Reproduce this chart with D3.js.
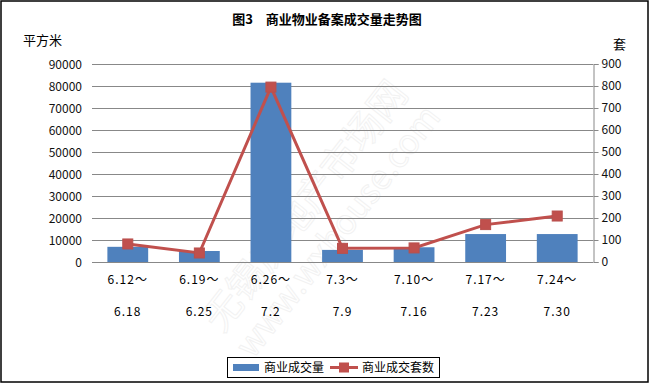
<!DOCTYPE html>
<html><head><meta charset="utf-8">
<script src="https://cdn.jsdelivr.net/npm/d3@7"></script>
<style>body{margin:0;background:#fff}svg{display:block}text{font-family:"SimSun","Noto Sans CJK SC",sans-serif}</style>
</head><body>
<svg id="c" width="650" height="384"></svg>
<script>
const categoriesTop = ["6.12～","6.19～","6.26～","7.3～","7.10～","7.17～","7.24～"];
const categoriesBottom = ["6.18","6.25","7.2","7.9","7.16","7.23","7.30"];
const area = [6900, 5000, 81500, 5500, 6700, 12700, 12700];
const units = [82, 41, 795, 62, 64, 170, 209];
const leftTicks = [0,10000,20000,30000,40000,50000,60000,70000,80000,90000];
const rightTicks = [0,100,200,300,400,500,600,700,800,900];
const title = "图3　商业物业备案成交量走势图";
const leftUnit = "平方米", rightUnit = "套";
const legendNames = ["商业成交量","商业成交套数"];

const svg = d3.select("#c");
const L = 92, R = 593, T = 64, B = 262;
const x = d3.scaleBand().domain(categoriesTop.map((d,i)=>i)).range([L,R]).paddingInner(0.43).paddingOuter(0.215);
const yL = d3.scaleLinear().domain([0,90000]).range([B,T]);
const yR = d3.scaleLinear().domain([0,900]).range([B,T]);

svg.append("rect").attr("x",1).attr("y",1).attr("width",647).attr("height",381).attr("fill","#fff").attr("stroke","#000").attr("stroke-width",1.5);

// watermark
const wm = svg.append("g").attr("transform","translate(330,225) rotate(-52)").attr("opacity",0.25);
wm.append("text").attr("x",0).attr("y",-18).attr("text-anchor","middle").attr("font-size",38).attr("fill","none").attr("stroke","#ccc").attr("stroke-width",1).text("无锡房地产市场网");
wm.append("text").attr("x",0).attr("y",22).attr("text-anchor","middle").attr("font-size",34).attr("fill","none").attr("stroke","#ccc").attr("stroke-width",1).text("www.wxhouse.com");

svg.append("text").attr("x",327).attr("y",24).attr("text-anchor","middle").attr("font-size",13).attr("font-weight","bold").text(title);
svg.append("text").attr("x",23).attr("y",45).attr("font-size",13).text(leftUnit);
svg.append("text").attr("x",613).attr("y",49).attr("font-size",13).text(rightUnit);

// gridlines
svg.append("g").selectAll("line").data(leftTicks).join("line")
  .attr("x1",L).attr("x2",R).attr("y1",d=>yL(d)+0.5).attr("y2",d=>yL(d)+0.5).attr("stroke","#888").attr("stroke-width",1);

// left axis labels
svg.append("g").selectAll("text").data(leftTicks).join("text")
  .attr("x",82).attr("y",d=>yL(d)+4.5).attr("text-anchor","end").attr("font-size",12).attr("fill","#111").text(d=>d);

// right axis
const ra = svg.append("g").attr("transform",`translate(${R+0.5},0)`)
  .call(d3.axisRight(yR).tickValues(rightTicks).tickSize(5).tickPadding(3).tickFormat(d3.format("d")));
ra.select(".domain").attr("stroke","#888");
ra.selectAll(".tick line").attr("stroke","#888");
ra.selectAll("text").attr("font-size",12).attr("fill","#111").attr("font-family",'"SimSun","Noto Sans CJK SC",sans-serif');

// bars
svg.append("g").selectAll("rect").data(area).join("rect")
  .attr("x",(d,i)=>x(i)).attr("width",x.bandwidth()).attr("y",d=>yL(d)).attr("height",d=>B-yL(d)).attr("fill","#4F81BD");

// x labels
const cx = i => x(i)+x.bandwidth()/2;
svg.append("g").selectAll("text").data(categoriesTop).join("text")
  .attr("x",(d,i)=>cx(i)).attr("y",284).attr("text-anchor","middle").attr("font-size",12).attr("letter-spacing",1).text(d=>d);
svg.append("g").selectAll("text").data(categoriesBottom).join("text")
  .attr("x",(d,i)=>cx(i)).attr("y",316).attr("text-anchor","middle").attr("font-size",12).attr("letter-spacing",1).text(d=>d);

// line
const line = d3.line().x((d,i)=>cx(i)).y(d=>yR(d));
svg.append("path").datum(units).attr("d",line).attr("fill","none").attr("stroke","#C0504D").attr("stroke-width",3);
svg.append("g").selectAll("rect").data(units).join("rect")
  .attr("x",(d,i)=>cx(i)-5).attr("y",d=>yR(d)-5).attr("width",10).attr("height",10)
  .attr("fill","#C0504D").attr("stroke","#B9504D").attr("stroke-width",1);

// legend
const lg = svg.append("g");
lg.append("rect").attr("x",227.5).attr("y",357.5).attr("width",212).attr("height",20).attr("fill","#fff").attr("stroke","#000");
lg.append("rect").attr("x",233).attr("y",364).attr("width",26).attr("height",7).attr("fill","#4F81BD");
lg.append("text").attr("x",264).attr("y",372).attr("font-size",12).text(legendNames[0]);
lg.append("line").attr("x1",330).attr("x2",358).attr("y1",367.5).attr("y2",367.5).attr("stroke","#C0504D").attr("stroke-width",3);
lg.append("rect").attr("x",339).attr("y",362.5).attr("width",10).attr("height",10).attr("fill","#C0504D");
lg.append("text").attr("x",362).attr("y",372).attr("font-size",12).text(legendNames[1]);
</script>
</body></html>
